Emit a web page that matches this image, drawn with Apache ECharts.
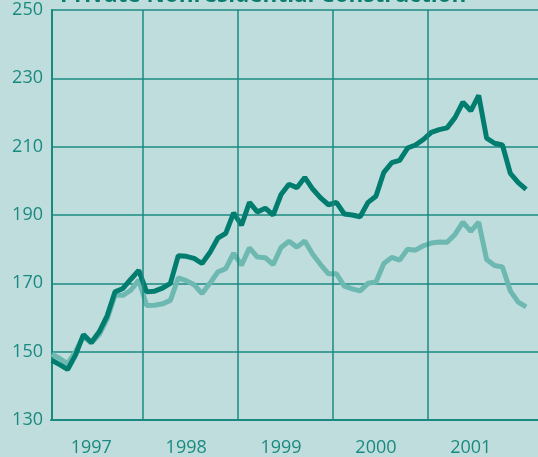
<!DOCTYPE html>
<html>
<head>
<meta charset="utf-8">
<script src="https://cdn.jsdelivr.net/npm/echarts@6/dist/echarts.min.js"></script>
<style>
  html, body { margin: 0; padding: 0; background: #bfdddc; }
  #chart { width: 538px; height: 457px; }
</style>
</head>
<body>
<div id="chart"></div>
<script>
// monthly, Jan 1997 .. Jan 2002
var years = ['1997', '1998', '1999', '2000', '2001'];
var yearBreaks = [11.5, 23.5, 35.5, 47.5];

// dark line
var nominal = [
    147.5, 146.2, 144.8, 149.0, 155.0, 152.7, 155.8, 160.5, 167.5, 168.5, 171.2, 173.8,
    167.5, 167.7, 168.6, 170.0, 178.1, 177.9, 177.3, 175.8, 179.0, 183.2, 184.6, 190.6,
    187.0, 193.7, 190.9, 192.0, 190.0, 196.0, 199.0, 198.0, 201.0, 197.6, 195.0, 193.0,
    193.7, 190.3, 190.0, 189.5, 193.7, 195.5, 202.5, 205.3, 206.0, 209.6, 210.5, 212.1,
    214.2, 215.0, 215.5, 218.5, 223.0, 220.5, 225.0, 212.5, 211.0, 210.5, 202.2, 199.5,
    197.5
];
// light line
var real = [
    149.3, 148.0, 146.5, 150.0, 154.5, 152.5, 155.0, 159.5, 166.5, 166.5, 168.0, 171.0,
    163.5, 163.6, 164.0, 165.0, 171.6, 170.8, 169.6, 167.0, 170.0, 173.3, 174.3, 178.8,
    175.3, 180.4, 177.7, 177.5, 175.5, 180.5, 182.3, 180.6, 182.4, 178.5, 175.5, 172.8,
    172.8, 169.2, 168.4, 167.8, 170.0, 170.4, 175.8, 177.6, 176.8, 180.0, 179.7, 181.0,
    181.8, 182.1, 182.0, 184.3, 187.9, 185.2, 187.9, 177.0, 175.2, 174.8, 167.8, 164.5,
    163.1
];

var teal = '#1a8a80';
var chart = echarts.init(document.getElementById('chart'));
var option = {
    backgroundColor: '#bfdddc',
    animation: false,
    grid: {left: 51, right: 0, top: 10, bottom: 35},
    graphic: [{
        type: 'text', left: 60, y: -4,
        style: {
            text: 'Private Nonresidential Construction',
            fill: '#0a7d6e', font: 'bold 22.5px "Open Sans"',
            verticalAlign: 'middle'
        }
    }],
    xAxis: {
        type: 'value', min: -0.1, max: 61.5,
        splitLine: {show: false},
        axisTick: {show: false},
        axisLine: {show: true, lineStyle: {color: teal, width: 2}},
        axisLabel: {
            customValues: [5, 17, 29, 41, 53],
            formatter: function(v){ return years[Math.round((v - 5) / 12)]; },
            color: teal, fontSize: 18, fontFamily: 'Open Sans', margin: 19
        }
    },
    yAxis: {
        type: 'value', min: 130, max: 250, interval: 20,
        axisLine: {show: true, lineStyle: {color: teal, width: 2}},
        axisTick: {show: false},
        splitLine: {show: true, lineStyle: {color: teal, width: 1.5}},
        axisLabel: {color: teal, fontSize: 18, fontFamily: 'Open Sans', margin: 8}
    },
    series: [
        {
            type: 'line', data: [], z: 1, silent: true,
            markLine: {
                silent: true, symbol: 'none', label: {show: false},
                lineStyle: {color: teal, width: 1.5, type: 'solid'},
                data: yearBreaks.map(function(b){ return {xAxis: b}; })
            }
        },
        {
            name: 'light', type: 'line', z: 2, symbol: 'none',
            lineStyle: {color: '#6db8b1', width: 5},
            data: real.map(function(v, i){ return [i, v]; })
        },
        {
            name: 'dark', type: 'line', z: 3, symbol: 'none',
            lineStyle: {color: '#007d6e', width: 5},
            data: nominal.map(function(v, i){ return [i, v]; })
        }
    ]
};
chart.setOption(option);
</script>
</body>
</html>
